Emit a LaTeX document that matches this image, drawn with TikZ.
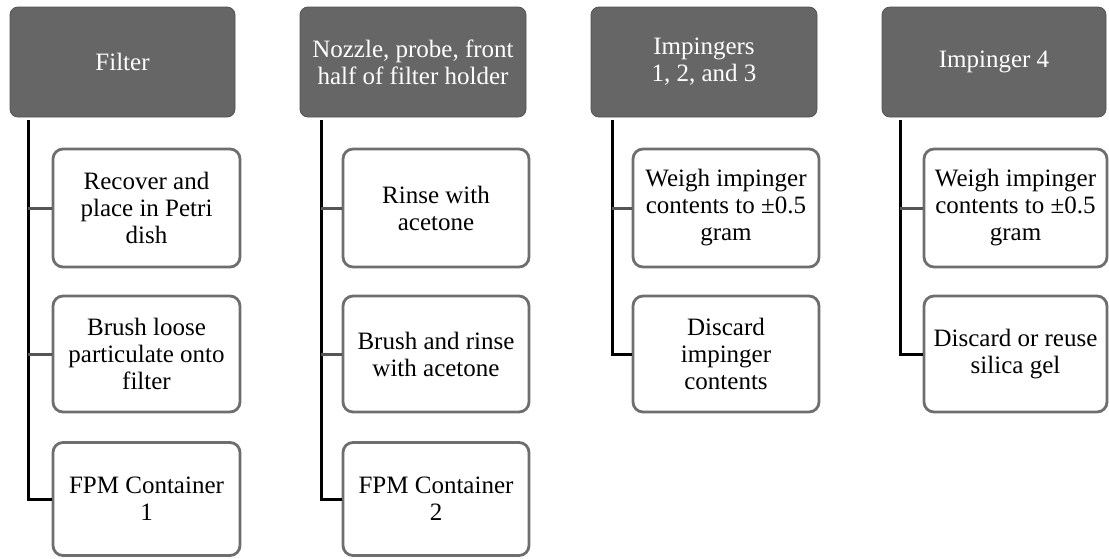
\documentclass[tikz,border=0pt]{standalone}
\usepackage{fontspec}
\setmainfont{Liberation Serif}
\newfontfamily\timesfont{Liberation Serif}
\definecolor{hdrfill}{HTML}{666666}
\definecolor{boxline}{HTML}{6E6E6E}
\definecolor{branchline}{HTML}{555555}
\begin{document}
\begin{tikzpicture}[x=1pt,y=-1pt,
  hdr/.style={rounded corners=8pt, fill=hdrfill, draw=hdrfill!80!black, line width=0.8pt,
    text=white, align=center, inner sep=0pt,
    font=\timesfont\fontsize{25}{27}\selectfont},
  stepbox/.style={rounded corners=10pt, draw=boxline, line width=2.8pt, fill=white,
    align=center, inner sep=0pt, font=\timesfont\fontsize{25}{27}\selectfont},
  trunk/.style={line width=3pt, black},
  branch/.style={line width=3pt, branchline}]
\useasboundingbox (0,0) rectangle (1109,558);

% headers
\node[hdr, minimum width=225pt, minimum height=110pt] (h1) at (122.5,62) {Filter};
\node[hdr, minimum width=226pt, minimum height=110pt] (h2) at (413,62) {Nozzle, probe, front\\half of filter holder};
\node[hdr, minimum width=226pt, minimum height=110pt] (h3) at (704,62) {Impingers\\1, 2, and 3};
\node[hdr, minimum width=224pt, minimum height=110pt] (h4) at (994,62) {Impinger 4};

% column 1
\node[stepbox, minimum width=187pt, minimum height=118pt] (a1) at (146.5,208) {Recover and\\place in Petri\\dish};
\node[stepbox, minimum width=187pt, minimum height=116pt] (a2) at (146.5,354) {Brush loose\\particulate onto\\filter};
\node[stepbox, minimum width=187pt, minimum height=113pt] (a3) at (146.5,499) {FPM Container\\1};

% column 2
\node[stepbox, minimum width=186pt, minimum height=118pt] (b1) at (436,208) {Rinse with\\acetone};
\node[stepbox, minimum width=186pt, minimum height=116pt] (b2) at (436,354) {Brush and rinse\\with acetone};
\node[stepbox, minimum width=186pt, minimum height=113pt] (b3) at (436,499) {FPM Container\\2};

% column 3
\node[stepbox, minimum width=186pt, minimum height=118pt] (c1) at (726,208) {Weigh impinger\\contents to ±0.5\\gram};
\node[stepbox, minimum width=186pt, minimum height=116pt] (c2) at (726,354) {Discard\\impinger\\contents};

% column 4
\node[stepbox, minimum width=183pt, minimum height=118pt] (d1) at (1015.5,208) {Weigh impinger\\contents to ±0.5\\gram};
\node[stepbox, minimum width=183pt, minimum height=116pt] (d2) at (1015.5,354) {Discard or reuse\\silica gel};

% connectors
\coordinate (t1) at (28,120);
\coordinate (t2) at (321,120);
\coordinate (t3) at (612,120);
\coordinate (t4) at (900,120);

\draw[trunk] (t1) |- (a3.west);
\draw[branch] (t1 |- a1.west) -- (a1.west);
\draw[branch] (t1 |- a2.west) -- (a2.west);

\draw[trunk] (t2) |- (b3.west);
\draw[branch] (t2 |- b1.west) -- (b1.west);
\draw[branch] (t2 |- b2.west) -- (b2.west);

\draw[trunk] (t3) |- (c2.west);
\draw[branch] (t3 |- c1.west) -- (c1.west);

\draw[trunk] (t4) |- (d2.west);
\draw[branch] (t4 |- d1.west) -- (d1.west);
\end{tikzpicture}
\end{document}
